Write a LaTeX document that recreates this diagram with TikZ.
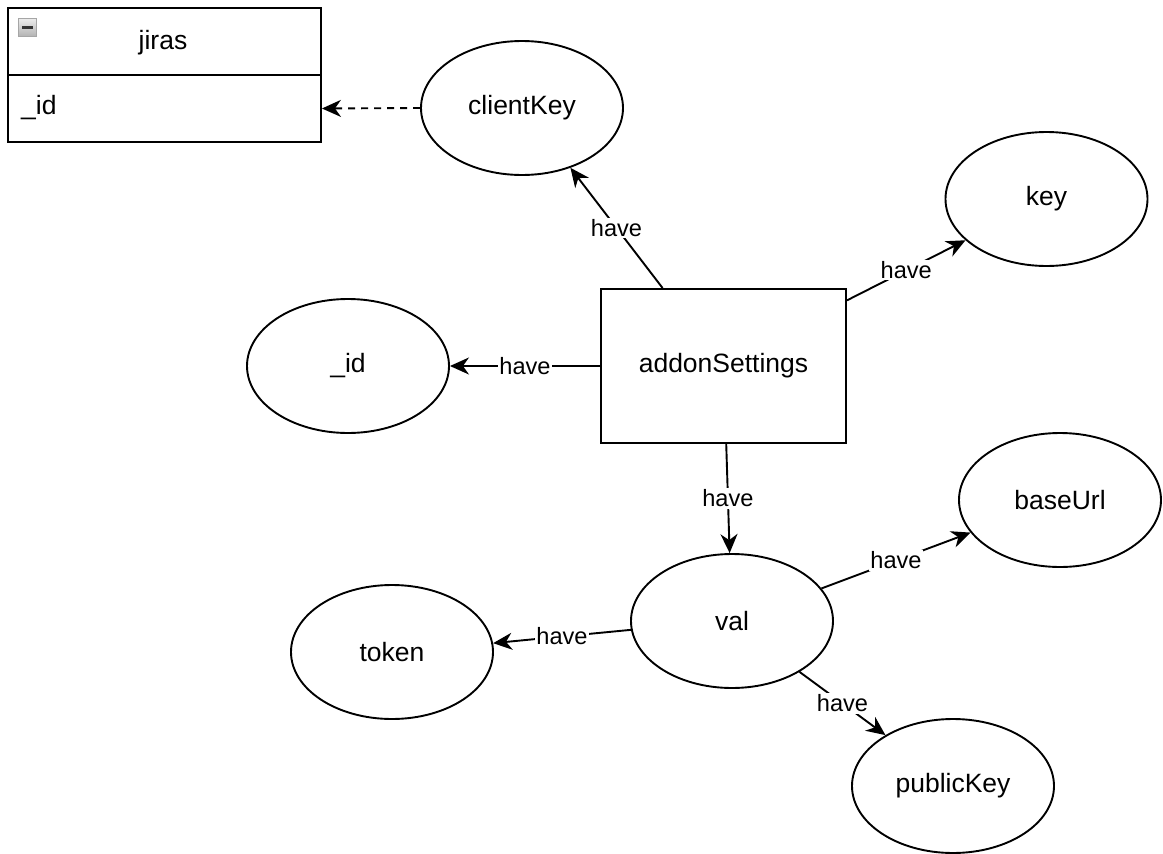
\documentclass[tikz,border=0pt]{standalone}
\usepackage{fontspec}
\setmainfont{Liberation Sans}
\usetikzlibrary{shapes.geometric,arrows.meta}

\tikzset{
  entity/.style={draw, ellipse, line width=1.9pt, minimum width=202pt,
    minimum height=134pt, inner sep=0pt, font=\fontsize{26.5}{30}\selectfont},
  table/.style={draw, rectangle, line width=1.9pt, minimum width=245pt,
    minimum height=154pt, inner sep=0pt, font=\fontsize{26.5}{30}\selectfont},
  rel/.style={line width=1.9pt,
    -{Stealth[length=19pt,width=17pt,inset=6pt]}},
  ref/.style={rel, dash pattern=on 7pt off 6pt},
  relname/.style={midway, fill=white, inner sep=1.5pt,
    font=\fontsize{23.6}{26}\selectfont},
  swimhead/.style={draw, rectangle, line width=1.9pt, minimum width=313pt,
    minimum height=67pt, inner sep=0pt},
}

\begin{document}
\begin{tikzpicture}[x=1pt, y=-1pt]
\useasboundingbox (0,0) rectangle (1163,854);

% jiras collection box
\node[swimhead] (jirasHead) at (164.5,41.5) {};
\node[swimhead] (jirasBody) at (164.5,108.5) {};
\node[font=\fontsize{26.5}{30}\selectfont] (jirasTitle) at (163,43) {jiras};
\node[font=\fontsize{26.5}{30}\selectfont, anchor=west, inner sep=0pt] (jirasField) at (21,108) {\_id};
\node[draw=gray!70, line width=0.8pt, top color=gray!15, bottom color=gray!60,
  minimum size=18pt, inner sep=0pt] (collapse) at (27.5,27.5) {};
\draw[line width=2.2pt, black!80] ([xshift=-5.5pt]collapse.center) -- ([xshift=5.5pt]collapse.center);

% entities
\node[table] (addon) at (723.5,366) {addonSettings};
\node[entity] (ck) at (522,108) {clientKey};
\node[entity] (key) at (1046.5,199) {key};
\node[entity] (id) at (348,366) {\_id};
\node[entity] (val) at (732,621) {val};
\node[entity] (base) at (1060,500) {baseUrl};
\node[entity] (token) at (392,652) {token};
\node[entity] (pub) at (953,786) {publicKey};

% relations
\draw[rel] (addon.128.6) -- node[relname] {have} (ck.-51);
\draw[rel] (addon.28.3) -- node[relname] {have} (key.207.6);
\draw[rel] (addon.west) -- node[relname] {have} (id.east);
\draw[rel] (addon.-88) -- node[relname] {have} (val.92);
\draw[rel] (val.20.3) -- node[relname] {have} (base.200.6);
\draw[rel] (val.185) -- node[relname] {have} (token.5.7);
\draw[rel] (val.-37.4) -- node[relname] {have} (pub.143.3);

% reference to the jiras document
\draw[ref] (ck.west) -- (jirasBody.east);
\end{tikzpicture}
\end{document}
